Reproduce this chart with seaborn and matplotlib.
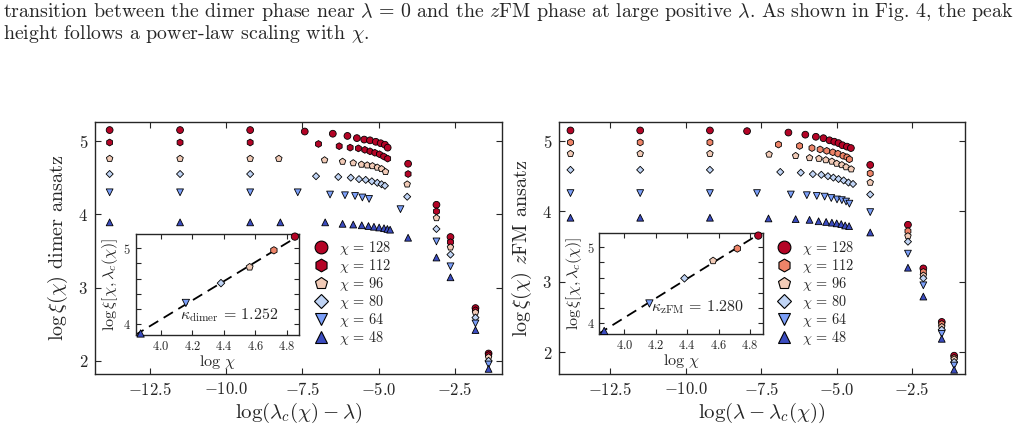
import numpy as np
import pandas as pd
import matplotlib
matplotlib.use("Agg")
import matplotlib.pyplot as plt
from matplotlib.lines import Line2D
import seaborn as sns

# bond dimensions and marker styles
chis = [128, 112, 96, 80, 64, 48]
marker_list = ['o', 'h', 'p', 'D', 'v', '^']

# left panel: dimer ansatz, x = log(lambda_c - lambda), y = log xi
dimer_x = {
    128: [-13.82, -11.51, -9.21, -7.42, -6.50, -6.02, -5.71, -5.47, -5.28, -5.09, -4.93, -4.79, -4.70, -4.03, -3.10, -2.64, -1.82, -1.39],
    112: [-13.82, -11.51, -9.21, -6.97, -6.29, -5.93, -5.66, -5.45, -5.28, -5.12, -4.97, -4.83, -4.70, -4.03, -3.10, -2.64, -1.82, -1.39],
    96: [-13.82, -11.51, -9.21, -8.27, -6.77, -6.18, -5.83, -5.56, -5.37, -5.20, -5.04, -4.90, -4.77, -4.06, -3.10, -2.64, -1.82, -1.39],
    80: [-13.82, -11.51, -9.21, -7.05, -6.32, -5.91, -5.64, -5.42, -5.22, -5.04, -4.90, -4.79, -4.06, -3.10, -2.64, -1.82, -1.39],
    64: [-13.82, -11.51, -9.21, -7.65, -6.59, -6.10, -5.77, -5.53, -5.31, -4.28, -3.10, -2.64, -1.82, -1.39],
    48: [-13.82, -11.51, -9.21, -8.22, -6.75, -6.18, -5.83, -5.55, -5.33, -5.15, -4.98, -4.82, -4.71, -4.62, -4.03, -3.10, -2.64, -1.82, -1.39],
}
dimer_y = {
    128: [5.15, 5.15, 5.15, 5.13, 5.10, 5.07, 5.04, 5.02, 5.01, 4.99, 4.97, 4.95, 4.91, 4.69, 4.13, 3.69, 2.72, 2.10],
    112: [4.98, 4.98, 4.98, 4.96, 4.93, 4.91, 4.90, 4.88, 4.86, 4.84, 4.82, 4.79, 4.76, 4.55, 4.04, 3.62, 2.69, 2.08],
    96: [4.76, 4.76, 4.76, 4.76, 4.74, 4.72, 4.70, 4.68, 4.67, 4.66, 4.64, 4.62, 4.58, 4.41, 3.95, 3.55, 2.66, 2.05],
    80: [4.55, 4.55, 4.55, 4.52, 4.51, 4.50, 4.48, 4.47, 4.45, 4.43, 4.41, 4.39, 4.24, 3.80, 3.45, 2.59, 2.00],
    64: [4.30, 4.30, 4.30, 4.30, 4.27, 4.26, 4.25, 4.23, 4.21, 4.07, 3.63, 3.29, 2.51, 1.95],
    48: [3.89, 3.89, 3.89, 3.89, 3.89, 3.87, 3.86, 3.85, 3.84, 3.83, 3.82, 3.81, 3.80, 3.79, 3.68, 3.41, 3.14, 2.42, 1.89],
}

# right panel: zFM ansatz, x = log(lambda - lambda_c)
zfm_x = {
    128: [-13.82, -11.51, -9.20, -7.97, -6.60, -6.04, -5.69, -5.44, -5.24, -5.08, -4.94, -4.81, -4.66, -4.53, -3.89, -2.64, -2.13, -1.52, -1.11],
    112: [-13.82, -11.51, -9.20, -6.93, -6.23, -5.82, -5.55, -5.33, -5.13, -4.96, -4.79, -4.66, -4.58, -3.89, -2.64, -2.13, -1.52, -1.11],
    96: [-13.82, -11.51, -9.20, -7.24, -6.36, -5.90, -5.59, -5.36, -5.16, -5.00, -4.83, -4.69, -4.52, -3.89, -2.64, -2.13, -1.52, -1.11],
    80: [-13.82, -11.51, -9.20, -6.87, -6.19, -5.79, -5.51, -5.29, -5.11, -4.94, -4.77, -4.61, -4.46, -3.89, -2.64, -2.13, -1.52, -1.11],
    64: [-13.82, -11.51, -9.20, -7.64, -6.52, -5.99, -5.66, -5.40, -5.18, -4.99, -4.83, -4.69, -4.58, -3.89, -2.64, -2.13, -1.52, -1.11],
    48: [-13.82, -11.51, -9.20, -7.26, -6.36, -5.90, -5.60, -5.35, -5.16, -5.00, -4.85, -4.72, -4.59, -3.89, -2.64, -2.13, -1.52, -1.11],
}
zfm_y = {
    128: [5.15, 5.15, 5.15, 5.14, 5.12, 5.09, 5.06, 5.04, 5.01, 4.99, 4.97, 4.94, 4.92, 4.90, 4.66, 3.81, 3.19, 2.43, 1.95],
    112: [4.98, 4.98, 4.98, 4.95, 4.93, 4.90, 4.88, 4.86, 4.84, 4.82, 4.79, 4.77, 4.74, 4.54, 3.72, 3.14, 2.40, 1.92],
    96: [4.82, 4.82, 4.82, 4.81, 4.79, 4.76, 4.75, 4.73, 4.71, 4.68, 4.66, 4.63, 4.60, 4.41, 3.65, 3.09, 2.36, 1.90],
    80: [4.59, 4.59, 4.59, 4.56, 4.55, 4.53, 4.52, 4.50, 4.48, 4.46, 4.44, 4.41, 4.39, 4.24, 3.57, 3.05, 2.32, 1.86],
    64: [4.26, 4.26, 4.26, 4.26, 4.24, 4.23, 4.22, 4.21, 4.19, 4.17, 4.16, 4.14, 4.11, 3.99, 3.40, 2.95, 2.26, 1.81],
    48: [3.91, 3.91, 3.91, 3.90, 3.89, 3.88, 3.86, 3.85, 3.84, 3.83, 3.82, 3.80, 3.79, 3.70, 3.20, 2.79, 2.19, 1.75],
}

# insets: saturated correlation length vs chi
dimer_peak = [5.15, 4.97, 4.75, 4.54, 4.28, 3.88]
zfm_peak = [5.15, 4.98, 4.82, 4.59, 4.26, 3.90]
kappa_dimer = 1.252
kappa_zfm = 1.280

line1 = (r"transition between the dimer phase near $\lambda\,=\,0$ and the $z$FM phase "
         r"at large positive $\lambda$. As shown in Fig. 4, the peak")
line2 = r"height follows a power-law scaling with $\chi$."

sns.set_style("ticks")
plt.rcParams['font.family'] = ['cmr10']
plt.rcParams['mathtext.fontset'] = 'cm'
plt.rcParams['axes.unicode_minus'] = False
plt.rcParams['axes.formatter.use_mathtext'] = True

cmap = plt.get_cmap('coolwarm')
pal = {c: cmap(v) for c, v in zip(chis, [1.0, 0.8, 0.6, 0.4, 0.2, 0.0])}
pal_dimer = dict(pal)
pal_dimer[112] = cmap(1.0)  # dimer panel shows 112 in dark red too
mk = dict(zip(chis, marker_list))
# diamonds are drawn larger by matplotlib, shrink them
sz = {c: (13 if mk[c] == 'D' else 24) for c in chis}


def to_frame(xs, ys):
    rows = []
    for c in chis:
        for x, y in zip(xs[c], ys[c]):
            rows.append((x, y, c))
    return pd.DataFrame(rows, columns=['x', 'y', 'chi'])


def style_main(ax, xlim, ylim):
    ax.set_xlim(*xlim)
    ax.set_ylim(*ylim)
    ax.set_xticks([-12.5, -10.0, -7.5, -5.0, -2.5])
    ax.set_xticklabels([r"$%.1f$" % t for t in [-12.5, -10.0, -7.5, -5.0, -2.5]])
    ax.set_yticks([2, 3, 4, 5])
    ax.set_yticklabels([r"$%d$" % t for t in [2, 3, 4, 5]])
    ax.tick_params(direction='in', top=True, right=True, length=4, width=0.8, labelsize=12, pad=5)
    for s in ax.spines.values():
        s.set_linewidth(1.0)
        s.set_color('0.15')


def style_inset(ax):
    ax.set_xlim(3.84, 4.88)
    ax.set_ylim(3.86, 5.18)
    xt = [4.0, 4.2, 4.4, 4.6, 4.8]
    ax.set_xticks(xt)
    ax.set_xticklabels([r"$%.1f$" % t for t in xt])
    yt = [4.0, 4.2, 4.4, 4.6, 4.8, 5.0]
    ax.set_yticks(yt)
    ax.set_yticklabels([r"$%d$" % t if t in (4.0, 5.0) else "" for t in yt])
    ax.tick_params(direction='in', top=True, right=True, length=3.5, width=0.8, labelsize=9, pad=3.5)
    ax.set_xlabel(r"$\log\,\chi$", fontsize=11.5, labelpad=0)
    ax.set_ylabel(r"$\log\xi[\chi,\lambda_c(\chi)]$", fontsize=11.5, labelpad=2)
    for s in ax.spines.values():
        s.set_linewidth(1.0)
        s.set_color('0.15')


def draw_inset(ax, peaks, kappa, palette, label, tpos):
    lx = np.log(chis)
    df = pd.DataFrame({'x': lx, 'y': peaks, 'chi': chis})
    b = np.mean(peaks) - kappa * np.mean(lx)
    xs = np.array([lx.min() - 0.04, lx.max() - 0.02])
    ax.plot(xs, kappa * xs + b, color='k', lw=1.3, dashes=(6, 3.5), zorder=1)
    sns.scatterplot(data=df, x='x', y='y', hue='chi', style='chi', size='chi',
                    palette=palette, markers=mk, sizes={c: v * 1.15 for c, v in sz.items()},
                    edgecolor='k', linewidth=0.6, legend=False,
                    ax=ax, zorder=3, clip_on=False)
    ax.text(tpos[0], tpos[1], label, transform=ax.transAxes, ha='center', va='center', fontsize=11.5)
    style_inset(ax)


def add_legend(ax, palette):
    handles = []
    for c in chis:
        ms = 7 if mk[c] == 'D' else 9.2
        handles.append(Line2D([], [], ls='none', marker=mk[c], markersize=ms,
                              markerfacecolor=palette[c], markeredgecolor='k', markeredgewidth=0.8))
    ax.legend(handles, [r"$\chi\,=\,%d$" % c for c in chis], loc='upper left',
              bbox_to_anchor=(0.537, 0.535), frameon=False, fontsize=10.3,
              handlelength=1.0, handletextpad=0.75, labelspacing=0.0,
              borderpad=0, borderaxespad=0)


fig = plt.figure(figsize=(10.27, 4.41), dpi=100)
fig.patch.set_facecolor('white')

fig.text(0.003, 1 - 12 / 441, line1, fontsize=14.3, ha='left', va='center')
fig.text(0.003, 1 - 34 / 441, line2, fontsize=14.3, ha='left', va='center')

ax1 = fig.add_axes([95 / 1027, 67 / 441, 407 / 1027, 252 / 441])
ax2 = fig.add_axes([559 / 1027, 67 / 441, 406 / 1027, 252 / 441])

sns.scatterplot(data=to_frame(dimer_x, dimer_y), x='x', y='y', hue='chi', style='chi',
                size='chi', palette=pal_dimer, markers=mk, sizes=sz, edgecolor='k',
                linewidth=0.6, legend=False, ax=ax1)
sns.scatterplot(data=to_frame(zfm_x, zfm_y), x='x', y='y', hue='chi', style='chi',
                size='chi', palette=pal, markers=mk, sizes=sz, edgecolor='k',
                linewidth=0.6, legend=False, ax=ax2)

style_main(ax1, (-14.3, -0.95), (1.82, 5.26))
style_main(ax2, (-14.2, -0.75), (1.69, 5.27))
ax1.set_xlabel(r"$\log(\lambda_c(\chi) - \lambda)$", fontsize=15, labelpad=2)
ax2.set_xlabel(r"$\log(\lambda - \lambda_c(\chi))$", fontsize=15, labelpad=2)
ax1.set_ylabel(r"$\log\xi(\chi)$ dimer ansatz", fontsize=14.5, labelpad=6)
ax2.set_ylabel(r"$\log\xi(\chi)$ $z$FM ansatz", fontsize=14.5, labelpad=6)

add_legend(ax1, pal_dimer)
add_legend(ax2, pal)

in1 = fig.add_axes([135.7 / 1027, 106 / 441, 163.6 / 1027, 100.7 / 441])
in2 = fig.add_axes([599.3 / 1027, 107 / 441, 163.4 / 1027, 100.7 / 441])
draw_inset(in1, dimer_peak, kappa_dimer, pal, r"$\kappa_{\rm dimer}\,=\,%.3f$" % kappa_dimer, (0.57, 0.2))
draw_inset(in2, zfm_peak, kappa_zfm, pal, r"$\kappa_{\rm zFM}\,=\,%.3f$" % kappa_zfm, (0.6, 0.27))

fig.savefig('out.png', dpi=100, facecolor='white')
